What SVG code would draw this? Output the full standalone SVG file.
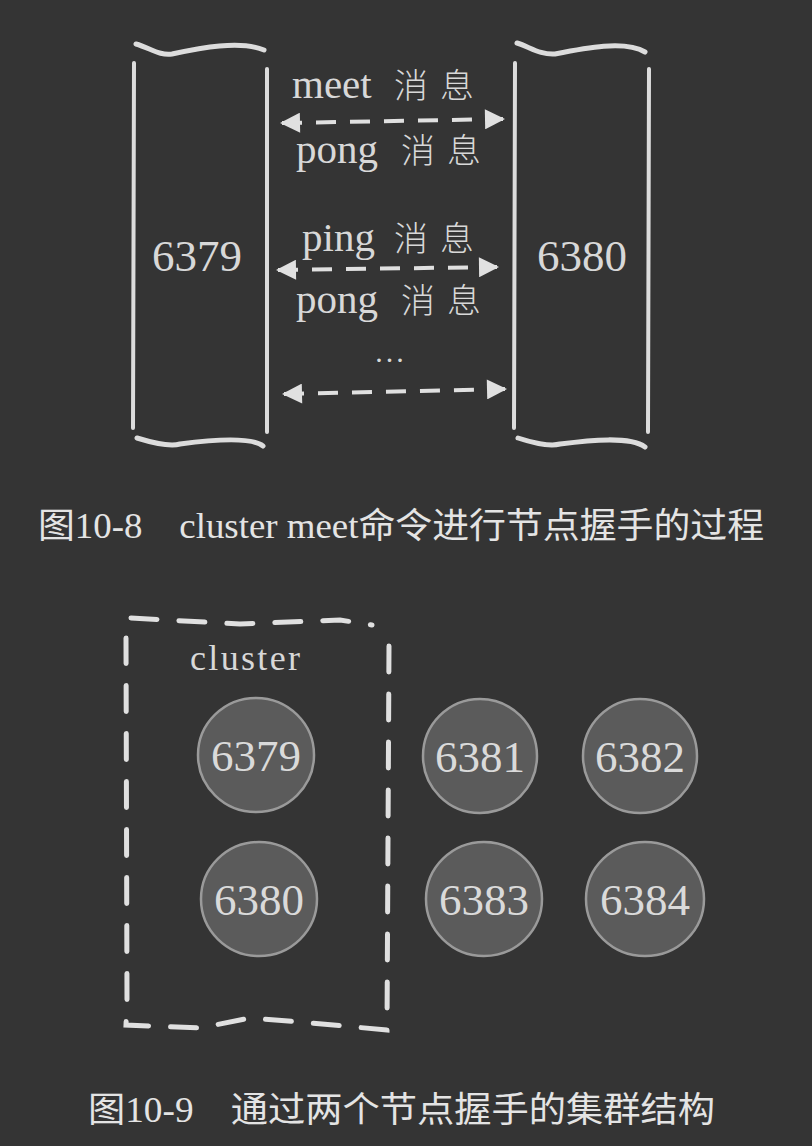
<svg xmlns="http://www.w3.org/2000/svg" width="812" height="1146" viewBox="0 0 812 1146">
<style>
.bg{fill:#343434}
.wall{fill:none;stroke:#dcdcdc;stroke-width:4;stroke-linecap:round}
.brush{fill:none;stroke:#dcdcdc;stroke-width:5;stroke-linecap:round;stroke-linejoin:round}
.dash{fill:none;stroke:#e0e0e0;stroke-width:4;stroke-dasharray:20 14}
.box{fill:none;stroke:#e0e0e0;stroke-width:5;stroke-dasharray:26 22;stroke-linecap:round}
.hand{font-family:"Liberation Serif","Noto Sans CJK SC",serif;fill:#d8d8d8}
.cjk{font-size:34px;letter-spacing:12px;font-weight:300}
.cap{font-family:"Liberation Serif","Noto Sans CJK SC",serif;fill:#e4e4e4;font-size:35px}
.node{fill:#5b5b5b;stroke:#9a9a9a;stroke-width:2.5}
.ntext{font-family:"Liberation Serif",serif;fill:#dadada;font-size:45px;text-anchor:middle}
</style>
<defs>
<marker id="ah" viewBox="0 0 10 10" refX="9" refY="5" markerWidth="6" markerHeight="5" orient="auto-start-reverse" markerUnits="strokeWidth">
<path d="M0,0 L10,5 L0,10 Z" fill="#e0e0e0"/>
</marker>
</defs>
<rect class="bg" x="0" y="0" width="812" height="1146"/>

<g id="node-6379-box">
<line class="wall" x1="134" y1="63" x2="133" y2="428"/>
<line class="wall" x1="267" y1="69" x2="267" y2="432"/>
<path class="brush" d="M136,44 C150,48 160,56 172,54 C200,48 240,40 264,50"/>
<path class="brush" d="M137,438 C150,442 170,447 180,444 C210,440 250,436 263,446"/>
<text class="hand" x="197" y="271" font-size="45" text-anchor="middle">6379</text>
</g>

<g id="node-6380-box">
<line class="wall" x1="515" y1="63" x2="514" y2="428"/>
<line class="wall" x1="649" y1="69" x2="648" y2="432"/>
<path class="brush" d="M517,43 C530,47 540,55 555,54 C585,48 625,40 645,52"/>
<path class="brush" d="M518,438 C530,442 550,447 560,444 C590,440 630,436 645,447"/>
<text class="hand" x="582" y="271" font-size="45" text-anchor="middle">6380</text>
</g>

<g id="connectors">
<line class="dash" x1="282" y1="123" x2="503" y2="119" marker-start="url(#ah)" marker-end="url(#ah)"/>
<line class="dash" x1="278" y1="270" x2="497" y2="267" marker-start="url(#ah)" marker-end="url(#ah)"/>
<line class="dash" x1="284" y1="394" x2="505" y2="389" marker-start="url(#ah)" marker-end="url(#ah)"/>
</g>

<g id="labels">
<text class="hand" x="292" y="98" font-size="41">meet<tspan class="cjk" x="394">消息</tspan></text>
<text class="hand" x="296" y="163" font-size="41">pong<tspan class="cjk" x="401">消息</tspan></text>
<text class="hand" x="302" y="251" font-size="41">ping<tspan class="cjk" x="394">消息</tspan></text>
<text class="hand" x="296" y="313" font-size="41">pong<tspan class="cjk" x="401">消息</tspan></text>
<text class="hand" x="391" y="362" font-size="30" text-anchor="middle" letter-spacing="3">...</text>
</g>

<text class="cap" x="38" y="538" textLength="726" lengthAdjust="spacingAndGlyphs">图10-8　cluster meet命令进行节点握手的过程</text>

<g id="cluster">
<path class="box" d="M131,618 L240,624 L340,620 L372,625 M389,646 L387,1030 L300,1022 L250,1018 L200,1028 L126,1025 L127,1000 L126,638"/>
<text class="hand" x="245" y="670" font-size="36" text-anchor="middle" textLength="110" lengthAdjust="spacing">cluster</text>
</g>

<g id="node-6379"><ellipse class="node" cx="256" cy="755" rx="58" ry="57"/><text class="ntext" x="256" y="771">6379</text></g>
<g id="node-6380"><ellipse class="node" cx="259" cy="899" rx="58" ry="57"/><text class="ntext" x="259" y="915">6380</text></g>
<g id="node-6381"><ellipse class="node" cx="480" cy="756" rx="57" ry="57"/><text class="ntext" x="480" y="772">6381</text></g>
<g id="node-6382"><ellipse class="node" cx="640" cy="756" rx="57" ry="57"/><text class="ntext" x="640" y="772">6382</text></g>
<g id="node-6383"><ellipse class="node" cx="484" cy="899" rx="58" ry="57"/><text class="ntext" x="484" y="915">6383</text></g>
<g id="node-6384"><ellipse class="node" cx="645" cy="899" rx="59" ry="57"/><text class="ntext" x="645" y="915">6384</text></g>

<text class="cap" x="88" y="1122" textLength="627" lengthAdjust="spacingAndGlyphs">图10-9　通过两个节点握手的集群结构</text>
</svg>
